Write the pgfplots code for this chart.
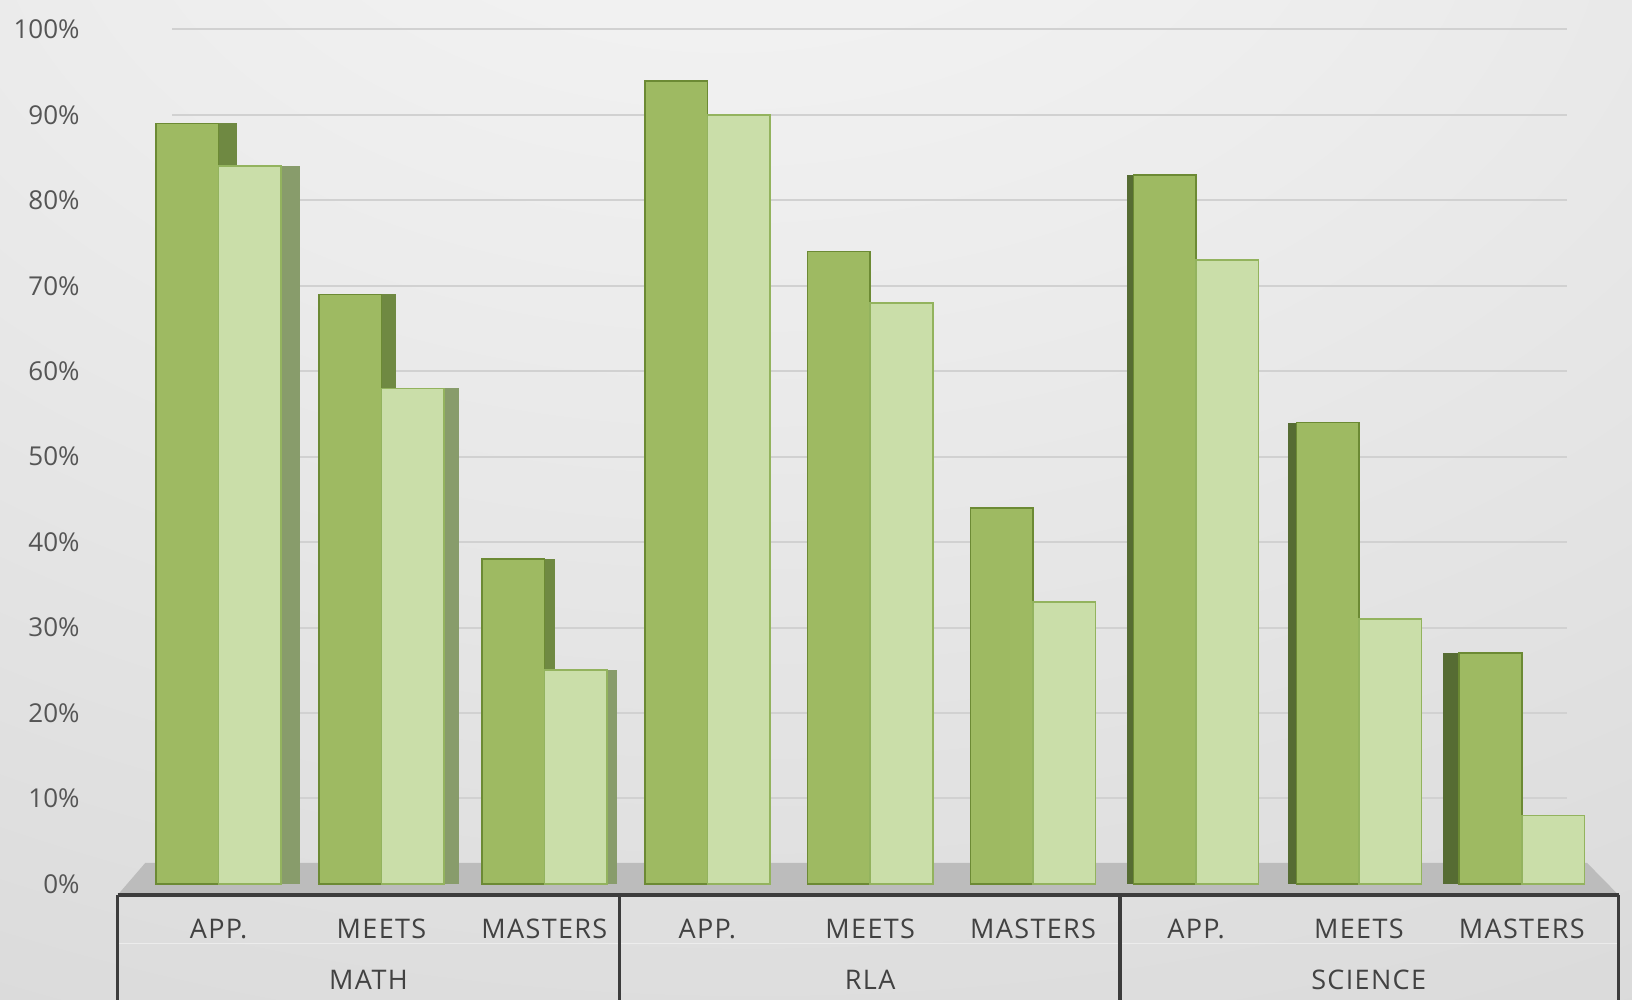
\documentclass[border=0pt]{standalone}
\usepackage{pgfplots}
\pgfplotsset{compat=1.18}
\usepackage{pgfplotstable}
\usepackage{fontspec}
\setmainfont{Open Sans}
\newfontfamily\spacedfam{Open Sans}[LetterSpace=5]

% palette
\definecolor{bgA}{HTML}{F6F6F6}
\definecolor{bgB}{HTML}{ECECEC}
\definecolor{bgC}{HTML}{DADADA}
\definecolor{bgD}{HTML}{CACACA}
\definecolor{floorgray}{HTML}{BCBCBC}
\definecolor{gridgray}{HTML}{D1D1D1}
\definecolor{boxline}{HTML}{3C3C3C}
\definecolor{labelgray}{HTML}{555555}
\definecolor{textgray}{HTML}{424242}
\definecolor{darkfill}{HTML}{9EBA62}
\definecolor{darkedge}{HTML}{6C8A34}
\definecolor{darkside}{HTML}{6F8942}
\definecolor{darkleft}{HTML}{566C33}
\definecolor{lightfill}{HTML}{CADEA9}
\definecolor{lightedge}{HTML}{93B35E}
\definecolor{lightside}{HTML}{889C6B}

\pgfdeclareradialshading{backdrop}{\pgfpoint{-3bp}{38bp}}{%
  color(0bp)=(bgA); color(22bp)=(bgB); color(55bp)=(bgC); color(88bp)=(bgD); color(130bp)=(bgD)}

\newcommand\labelfont{\fontsize{13}{15}\selectfont}
\newcommand\catfont{\spacedfam\fontsize{13.5}{16}\selectfont}

% share of students per level: column x = category slot
\pgfplotstableread{
x dark light
0 89 84
1 69 58
2 38 25
3 94 90
4 74 68
5 44 33
6 83 73
7 54 31
8 27 8
}\scores

% side face of one bar: #1 slot, #2 column, #3 shift, #4 width, #5 colour
\newcommand\sideface[5]{%
  \addplot[ybar, bar width=#4, bar shift=#3, fill=#5, draw=none, forget plot,
    restrict x to domain=#1:#1] table[x=x, y=#2]{\scores};}

\begin{document}
\begin{tikzpicture}
\useasboundingbox (0,0) rectangle (816pt,500pt);
\shade[shading=backdrop] (0,0) rectangle (816pt,500pt);
\begin{axis}[
  at={(58.8pt,52.5pt)}, anchor=south west,
  scale only axis, width=750.5pt, height=447.5pt,
  xmin=-0.62, xmax=8.594, ymin=-1.3, ymax=103.45,
  axis line style={draw=none}, tick style={draw=none}, major tick length=0pt,
  ytick={0,10,20,30,40,50,60,70,80,90,100},
  yticklabels={0\%,10\%,20\%,30\%,40\%,50\%,60\%,70\%,80\%,90\%,100\%},
  yticklabel style={font=\labelfont, text=labelgray, anchor=east, xshift=-15.5pt},
  xtick={0,1,2,3,4,5,6,7,8},
  xticklabels={APP.,MEETS,MASTERS,APP.,MEETS,MASTERS,APP.,MEETS,MASTERS},
  xticklabel style={font=\catfont, text=textgray, anchor=center, yshift=-17pt},
  clip=false,
]
% floor
\fill[floorgray] (axis cs:-0.62,-1.3) -- (axis cs:8.594,-1.3)
  -- (axis cs:8.40,2.46) -- (axis cs:-0.45,2.46) -- cycle;
% back wall grid
\pgfplotsinvokeforeach{10,20,30,40,50,60,70,80,90,100}{
  \draw[gridgray, line width=1pt] (axis cs:-0.285,#1) -- (axis cs:8.28,#1);
}
% side faces
\sideface{0}{dark}{0.0575}{0.115}{darkside}
\sideface{1}{dark}{0.045}{0.09}{darkside}
\sideface{2}{dark}{0.032}{0.064}{darkside}
\sideface{0}{light}{0.4415}{0.115}{lightside}
\sideface{1}{light}{0.429}{0.09}{lightside}
\sideface{2}{light}{0.416}{0.064}{lightside}
\sideface{6}{dark}{-0.404}{0.04}{darkleft}
\sideface{7}{dark}{-0.409}{0.05}{darkleft}
\sideface{8}{dark}{-0.434}{0.10}{darkleft}
% front faces
\addplot[ybar, bar width=0.384, bar shift=-0.192, fill=darkfill, draw=darkedge,
  line width=0.8pt] table[x=x, y=dark]{\scores};
\addplot[ybar, bar width=0.384, bar shift=0.192, fill=lightfill, draw=lightedge,
  line width=0.8pt] table[x=x, y=light]{\scores};
% category box
\draw[white, opacity=0.45, line width=0.6pt] (axis cs:-0.62,-7.0) -- (axis cs:8.594,-7.0);
\draw[boxline, line width=1.8pt] (axis cs:-0.62,-1.3) -- (axis cs:8.594,-1.3);
\pgfplotsinvokeforeach{-0.62,2.46,5.534,8.594}{
  \draw[boxline, line width=1.8pt] (axis cs:#1,-1.3) -- (axis cs:#1,-14.5);
}
\node[font=\catfont, text=textgray] at (axis cs:0.92,-11.25) {MATH};
\node[font=\catfont, text=textgray] at (axis cs:4.0,-11.25) {RLA};
\node[font=\catfont, text=textgray] at (axis cs:7.06,-11.25) {SCIENCE};
\end{axis}
\end{tikzpicture}
\end{document}
